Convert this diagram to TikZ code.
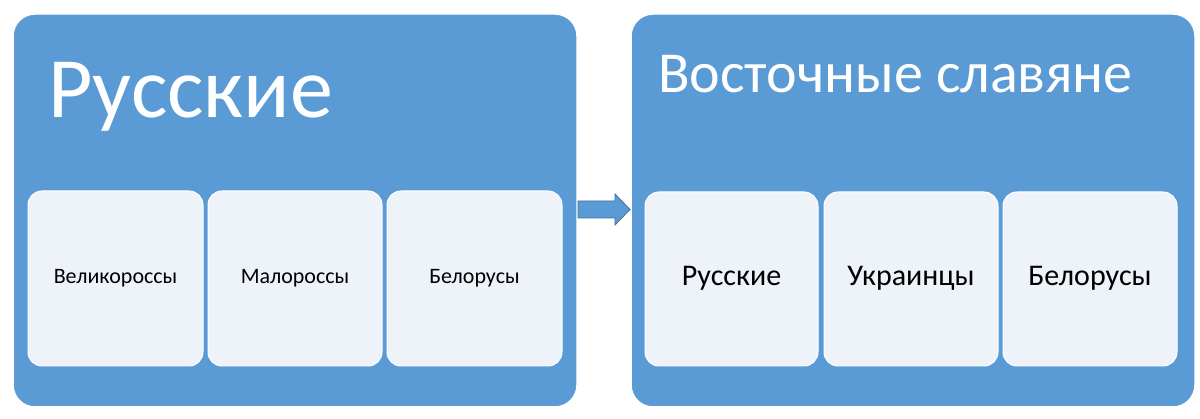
\documentclass[tikz,border=0pt]{standalone}
\usepackage{fontspec}
\setmainfont{Carlito}
\usetikzlibrary{shapes.arrows}
\definecolor{bblue}{HTML}{5B9BD5}
\definecolor{lblue}{HTML}{EEF3FA}
\definecolor{dblue}{HTML}{41719C}
\begin{document}
\begin{tikzpicture}[x=1pt,y=-1pt,
  outer/.style={fill=bblue,draw=white,line width=1.5pt,rounded corners=22pt},
  inner/.style={fill=lblue,draw=white,line width=1pt,rounded corners=14pt},
  lab/.style={font=\fontsize{22}{24}\selectfont,text=black},
  labb/.style={font=\fontsize{30}{32}\selectfont,text=black}]
\useasboundingbox (0,0) rectangle (1200,419);
\fill[white] (0,0) rectangle (1200,419);
\draw[outer] (13,14) rectangle (577,407);
\draw[outer] (631,14) rectangle (1195,407);
\node[anchor=base west,text=white,font=\fontsize{86}{90}\selectfont,inner sep=0] (t1) at (48,118) {Русские};
\node[anchor=base west,text=white,font=\fontsize{58}{62}\selectfont,inner sep=0] (t2) at (658,93) {Восточные славяне};
\foreach \x/\w/\n/\t in {28/175/a/Великороссы,208/174/b/Малороссы,387/175/c/Белорусы}{
  \draw[inner] (\x,191) rectangle ++(\w,175);
  \node[lab] (\n) at (\x+\w/2,278) {\t};
}
\foreach \x/\w/\n/\t in {645/173/d/Русские,824/174/e/Украинцы,1003/174/f/Белорусы}{
  \draw[inner] (\x,192) rectangle ++(\w,174);
  \node[labb] (\n) at (\x+\w/2,278) {\t};
}
\coordinate (s) at (578,209);
\coordinate (e) at (630,209);
\fill[bblue,draw=dblue,line width=0.8pt] (578,201) -- (615,201) -- (615,194) -- (630,209.5) -- (615,225) -- (615,218) -- (578,218) -- cycle;
\end{tikzpicture}
\end{document}
